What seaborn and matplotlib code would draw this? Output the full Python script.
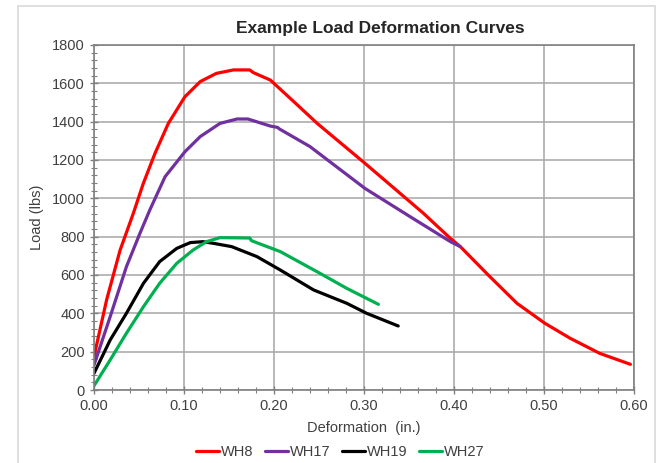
import numpy as np
import pandas as pd
import seaborn as sns
import matplotlib.pyplot as plt
from matplotlib.patches import Rectangle
from matplotlib.ticker import MultipleLocator, FormatStrFormatter

# Load-deformation data
wh8_def = [0.0, 0.014, 0.029, 0.0344, 0.0437, 0.0548, 0.0678, 0.0826, 0.101, 0.118, 0.136,
           0.155, 0.173, 0.177, 0.196, 0.226, 0.248, 0.301, 0.366, 0.396, 0.407,
           0.438, 0.470, 0.501, 0.529, 0.562, 0.596]
wh8_load = [174, 470, 730, 800, 922, 1078, 1235, 1391, 1530, 1609, 1652,
            1670, 1670, 1656, 1617, 1487, 1391, 1183, 922, 791, 748,
            600, 452, 348, 270, 191, 134]

wh17_def = [0.0, 0.018, 0.036, 0.051, 0.062, 0.079, 0.101, 0.118, 0.140, 0.159, 0.171,
            0.196, 0.204, 0.206, 0.240, 0.301, 0.351, 0.396, 0.407]
wh17_load = [130, 383, 643, 817, 939, 1113, 1243, 1322, 1391, 1414, 1414,
             1377, 1370, 1362, 1270, 1052, 905, 774, 748]

wh19_def = [0.0, 0.018, 0.036, 0.055, 0.073, 0.092, 0.107, 0.121, 0.133, 0.153, 0.181,
            0.207, 0.244, 0.281, 0.303, 0.338]
wh19_load = [87, 261, 400, 557, 670, 739, 769, 774, 765, 748, 696,
             626, 522, 452, 400, 334]

wh27_def = [0.0, 0.018, 0.036, 0.055, 0.073, 0.092, 0.110, 0.125, 0.140, 0.173, 0.175,
            0.207, 0.251, 0.281, 0.316]
wh27_load = [22, 157, 296, 435, 557, 661, 730, 774, 795, 793, 779,
             722, 609, 530, 447]

series = ['WH8', 'WH17', 'WH19', 'WH27']
colors = ['#ff0000', '#7030a0', '#000000', '#00b050']

frames = []
for name, d, l in zip(series, [wh8_def, wh17_def, wh19_def, wh27_def],
                      [wh8_load, wh17_load, wh19_load, wh27_load]):
    frames.append(pd.DataFrame({'Deformation': d, 'Load': l, 'Specimen': name}))
df = pd.concat(frames, ignore_index=True)

sns.set_style('white')
plt.rcParams['font.family'] = ['Liberation Sans', 'DejaVu Sans']

fig = plt.figure(figsize=(6.6, 4.63), dpi=100)
ax = fig.add_axes([94 / 660, 1 - 390 / 463, 540 / 660, 345 / 463])

# light chart-area border
fig.patches.append(Rectangle((18 / 660, -0.02), 637 / 660, 1.007, transform=fig.transFigure,
                             fill=False, edgecolor='#d9d9d9', linewidth=1.2))

sns.lineplot(data=df, x='Deformation', y='Load', hue='Specimen', palette=colors,
             sort=False, estimator=None, linewidth=2.3, ax=ax, legend=False)
for ln in ax.lines:
    ln.set_solid_joinstyle('round')

ax.set_xlim(0, 0.6)
ax.set_ylim(0, 1800)
ax.xaxis.set_major_locator(MultipleLocator(0.1))
ax.xaxis.set_minor_locator(MultipleLocator(0.02))
ax.xaxis.set_major_formatter(FormatStrFormatter('%.2f'))
ax.yaxis.set_major_locator(MultipleLocator(200))
ax.yaxis.set_minor_locator(MultipleLocator(40))
ax.grid(True, which='major', color='#a6a6a6', linewidth=1.1)
ax.set_axisbelow(True)
ax.tick_params(which='major', direction='inout', length=6, width=1, color='#808080',
               labelsize=10.5, labelcolor='#404040', bottom=True, left=True)
ax.tick_params(which='minor', direction='inout', length=4, width=0.8, color='#808080',
               bottom=True, left=True)
for sp in ax.spines.values():
    sp.set_color('#808080')
    sp.set_linewidth(1.2)

ax.set_xlabel('Deformation  (in.)', fontsize=10.5, color='#404040', va='center')
ax.set_ylabel('Load (lbs)', fontsize=10.5, color='#404040', va='center')
ax.xaxis.set_label_coords(0.5, -(428 - 390) / 345)
ax.yaxis.set_label_coords((37 - 94) / 540, 0.5)
fig.text(380 / 660, 1 - 28 / 463, 'Example Load Deformation Curves', ha='center',
         va='center', fontsize=12.5, fontweight='bold')

handles = [plt.Line2D([], [], color=c, linewidth=2.3) for c in colors]
fig.legend(handles, series, loc='center', bbox_to_anchor=(340 / 660, 1 - 452 / 463),
           ncol=4, frameon=False, fontsize=10.5, handlelength=1.6, handletextpad=0.1,
           columnspacing=0.8, labelcolor='#404040')

fig.savefig('out.png', dpi=100)
